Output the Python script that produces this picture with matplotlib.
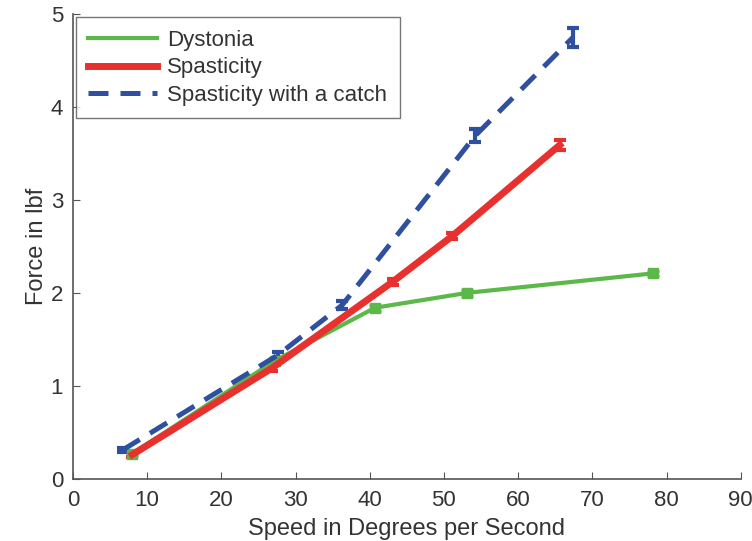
import matplotlib
matplotlib.use("Agg")
import matplotlib.pyplot as plt
from matplotlib.lines import Line2D

plt.rcParams['font.family'] = ['Liberation Sans', 'DejaVu Sans']

dyst_x = [8.0, 27.2, 40.7, 53.1, 78.2]
dyst_y = [0.27, 1.27, 1.84, 2.00, 2.21]
dyst_err = [0.02, 0.02, 0.03, 0.03, 0.03]

spas_x = [8.0, 26.8, 43.1, 51.1, 65.6]
spas_y = [0.26, 1.19, 2.12, 2.61, 3.59]
spas_err = [0.03, 0.03, 0.03, 0.03, 0.05]

catch_x = [6.7, 27.6, 36.3, 54.2, 67.4]
catch_y = [0.31, 1.33, 1.87, 3.69, 4.75]
catch_err = [0.02, 0.03, 0.04, 0.07, 0.10]

labels = ['Dystonia', 'Spasticity', 'Spasticity with a catch']

green = '#5cb848'
red = '#e8312f'
blue = '#2f4fa0'

fig = plt.figure(figsize=(7.52, 5.41), dpi=100)
ax = fig.add_axes([0.097, 0.115, 0.888, 0.859])

ax.errorbar(dyst_x, dyst_y, yerr=dyst_err, color=green, lw=3.0, marker='s', ms=7,
            capsize=4, capthick=2, elinewidth=2)
ax.errorbar(spas_x, spas_y, yerr=spas_err, color=red, lw=5.0,
            capsize=4, capthick=3, elinewidth=3)
ax.errorbar(catch_x, catch_y, yerr=catch_err, color=blue, lw=3.6, dashes=(4, 2.4),
            capsize=4, capthick=3, elinewidth=3)

ax.set_xlim(0, 90)
ax.set_ylim(0, 5)
ax.set_xticks(range(0, 91, 10))
ax.set_yticks(range(0, 6))
ax.spines['top'].set_visible(False)
ax.spines['right'].set_visible(False)
for s in ['left', 'bottom']:
    ax.spines[s].set_color('#555555')
    ax.spines[s].set_linewidth(1.2)
ax.tick_params(direction='in', length=5, color='#555555', labelsize=16, labelcolor='#333333')
ax.tick_params(axis='x', pad=8)
ax.tick_params(axis='y', pad=7)

ax.set_xlabel('Speed in Degrees per Second', fontsize=17, color='#333333', labelpad=5)
ax.set_ylabel('Force in lbf', fontsize=17, color='#333333', labelpad=2)

handles = [Line2D([], [], color=green, lw=3.0),
           Line2D([], [], color=red, lw=5.0),
           Line2D([], [], color=blue, lw=3.6, dashes=(4, 2.4))]
leg = ax.legend(handles, labels, loc='upper left', fontsize=16, frameon=True, fancybox=False,
                edgecolor='#555555', handlelength=3.1, borderaxespad=0.15,
                labelspacing=0.3, handletextpad=0.45, borderpad=0.55)
leg.get_frame().set_linewidth(1.0)
for t in leg.get_texts():
    t.set_color('#333333')

fig.savefig('out.png', dpi=100)
